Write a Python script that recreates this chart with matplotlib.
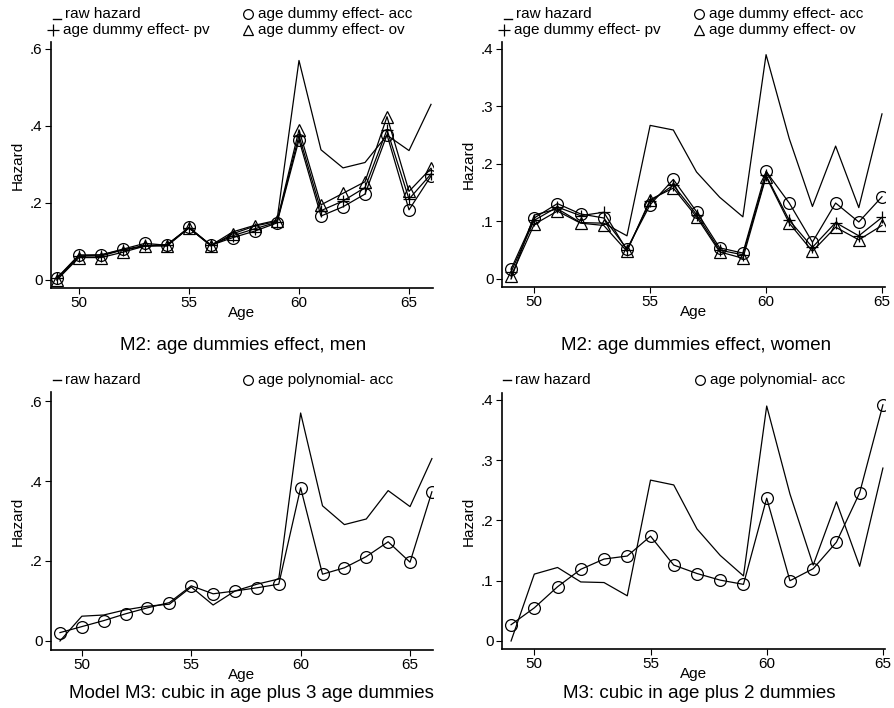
import numpy as np
import matplotlib
matplotlib.use('Agg')
import matplotlib.pyplot as plt
from matplotlib.ticker import FuncFormatter

plt.rcParams['font.family'] = ['Liberation Sans', 'DejaVu Sans']

# ---- data ----
ages_men = list(range(49, 67))
ages_women = list(range(49, 66))

raw_men = [0.0, 0.062, 0.065, 0.078, 0.087, 0.092, 0.135, 0.09, 0.125, 0.142,
           0.155, 0.57, 0.338, 0.291, 0.305, 0.376, 0.336, 0.456]
acc_men = [0.005, 0.065, 0.065, 0.08, 0.095, 0.09, 0.137, 0.09, 0.11, 0.127,
           0.148, 0.364, 0.166, 0.19, 0.223, 0.377, 0.182, 0.27]
pv_men = [0.005, 0.062, 0.062, 0.078, 0.09, 0.09, 0.135, 0.09, 0.115, 0.133,
          0.15, 0.375, 0.18, 0.205, 0.24, 0.39, 0.21, 0.275]
ov_men = [0.0, 0.058, 0.058, 0.072, 0.088, 0.088, 0.135, 0.088, 0.12, 0.14,
          0.152, 0.39, 0.195, 0.225, 0.255, 0.424, 0.23, 0.29]
poly_men = [0.021, 0.036, 0.051, 0.068, 0.083, 0.096, 0.138, 0.118, 0.125, 0.133,
            0.142, 0.383, 0.167, 0.183, 0.211, 0.248, 0.197, 0.373]

raw_women = [0.0, 0.111, 0.122, 0.098, 0.097, 0.075, 0.267, 0.259, 0.186, 0.142,
             0.108, 0.39, 0.244, 0.126, 0.231, 0.124, 0.287]
acc_women = [0.017, 0.106, 0.131, 0.113, 0.106, 0.052, 0.129, 0.173, 0.117, 0.054,
             0.045, 0.187, 0.132, 0.064, 0.132, 0.099, 0.143]
pv_women = [0.012, 0.102, 0.125, 0.11, 0.116, 0.05, 0.135, 0.163, 0.112, 0.05,
            0.042, 0.18, 0.102, 0.055, 0.098, 0.075, 0.107]
ov_women = [0.005, 0.095, 0.118, 0.097, 0.093, 0.048, 0.138, 0.158, 0.108, 0.047,
            0.036, 0.178, 0.097, 0.048, 0.09, 0.068, 0.093]
poly_women = [0.027, 0.055, 0.09, 0.119, 0.136, 0.141, 0.174, 0.126, 0.112, 0.101,
              0.094, 0.237, 0.1, 0.12, 0.164, 0.246, 0.392]

titles = ['M2: age dummies effect, men', 'M2: age dummies effect, women',
          'Model M3: cubic in age plus 3 age dummies', 'M3: cubic in age plus 2 dummies']

W, H = 894, 708
fig = plt.figure(figsize=(W / 100, H / 100), dpi=100)


def axes_px(l, t, r, b):
    return fig.add_axes([l / W, 1 - b / H, (r - l) / W, (b - t) / H])


def fmt(v, pos):
    if abs(v) < 1e-9:
        return '0'
    return ('%.1f' % v).lstrip('0')


def style(ax, xlim, ylim, yticks, xticks=(50, 55, 60, 65)):
    ax.set_xlim(*xlim)
    ax.set_ylim(*ylim)
    ax.set_xticks(xticks)
    ax.set_yticks(yticks)
    ax.yaxis.set_major_formatter(FuncFormatter(fmt))
    for s in ('top', 'right'):
        ax.spines[s].set_visible(False)
    for s in ('left', 'bottom'):
        ax.spines[s].set_linewidth(1.2)
    ax.tick_params(direction='out', length=4, width=0.8, labelsize=11, pad=2)
    ax.set_ylabel('Hazard', fontsize=11, labelpad=4)


lw = 0.9
mk = dict(color='black', linewidth=lw, markerfacecolor='none', markeredgecolor='black',
          markersize=8.5, markeredgewidth=0.9)


def px(x, y):
    return x / W, 1 - y / H


def legend_entry(x, y, symbol, label, dash_dy=0):
    fx, fy = px(x, y)
    if symbol == 'line':
        ly = fy - dash_dy / H
        fig.add_artist(plt.Line2D([fx - 12 / W, fx - 4 / W], [ly, ly], color='black', lw=1.0,
                                  transform=fig.transFigure))
    else:
        fig.add_artist(plt.Line2D([fx - 10 / W], [fy], marker=symbol,
                                  markersize=7 if symbol != '+' else 8,
                                  markerfacecolor='none', markeredgecolor='black',
                                  markeredgewidth=0.9, linestyle='none',
                                  transform=fig.transFigure))
    fig.text(fx, fy, label, fontsize=11, va='center', ha='left')


# ---- panel 1: men, age dummies ----
ax1 = axes_px(51, 42, 433, 288)
ax1.plot(ages_men, raw_men, color='black', linewidth=lw)
ax1.plot(ages_men, acc_men, marker='o', **mk)
ax1.plot(ages_men, pv_men, marker='+', **mk)
ax1.plot(ages_men, ov_men, marker='^', **mk)
style(ax1, (48.73, 66.09), (-0.021, 0.618), [0, 0.2, 0.4, 0.6])
ax1.set_xlabel('Age', fontsize=11, labelpad=-3)

# ---- panel 2: women, age dummies ----
ax2 = axes_px(502, 42, 885, 287)
ax2.plot(ages_women, raw_women, color='black', linewidth=lw)
ax2.plot(ages_women, acc_women, marker='o', **mk)
ax2.plot(ages_women, pv_women, marker='+', **mk)
ax2.plot(ages_women, ov_women, marker='^', **mk)
style(ax2, (48.61, 65.13), (-0.014, 0.412), [0, 0.1, 0.2, 0.3, 0.4])
ax2.set_xlabel('Age', fontsize=11, labelpad=-3)

# ---- panel 3: men, polynomial ----
ax3 = axes_px(51, 392, 433, 650)
ax3.plot(ages_men, raw_men, color='black', linewidth=lw)
ax3.plot(ages_men, poly_men, marker='o', **mk)
style(ax3, (48.59, 66.05), (-0.0225, 0.6225), [0, 0.2, 0.4, 0.6])
ax3.set_xlabel('Age', fontsize=11, labelpad=-3)

# ---- panel 4: women, polynomial ----
ax4 = axes_px(502, 393, 885, 649)
ax4.plot(ages_women, raw_women, color='black', linewidth=lw)
ax4.plot(ages_women, poly_women, marker='o', **mk)
style(ax4, (48.61, 65.09), (-0.0133, 0.4116), [0, 0.1, 0.2, 0.3, 0.4])
ax4.set_xlabel('Age', fontsize=11, labelpad=-3)

# ---- legends ----
for x0 in (0, 451):
    legend_entry(x0 + 65, 14, 'line', 'raw hazard', dash_dy=5)
    legend_entry(x0 + 258, 14, 'o', 'age dummy effect- acc')
    legend_entry(x0 + 63, 30, '+', 'age dummy effect- pv')
    legend_entry(x0 + 258, 30, '^', 'age dummy effect- ov')
legend_entry(65, 380, 'line', 'raw hazard')
legend_entry(258, 380, 'o', 'age polynomial- acc')
legend_entry(515, 380, 'line', 'raw hazard')
legend_entry(710, 380, 'o', 'age polynomial- acc')

# ---- captions ----
fig.text(*px(243, 345), titles[0], fontsize=13.5, ha='center', va='center')
fig.text(*px(696, 345), titles[1], fontsize=13.5, ha='center', va='center')
fig.text(*px(251, 693), titles[2], fontsize=13.5, ha='center', va='center')
fig.text(*px(699, 693), titles[3], fontsize=13.5, ha='center', va='center')

fig.savefig('out.png', dpi=100)
